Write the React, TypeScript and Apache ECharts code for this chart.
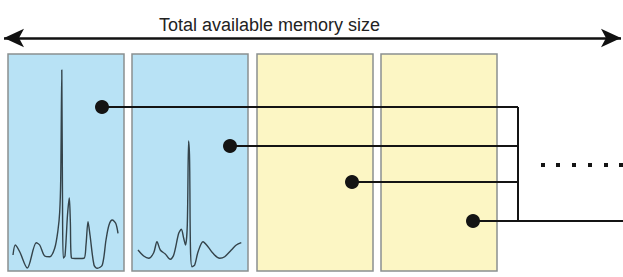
import React, { useEffect, useRef } from "react";
import * as echarts from "echarts";

// ---- data ----
const titleText = "Total available memory size";
const blockKinds = ["used", "used", "free", "free"];

// waveform samples stored in the two used blocks (time offset, amplitude)
const waveA: [number, number][] = [
  [5, 16], [7.3, 26], [11.7, 19.3], [19.3, 3], [28.3, 28.3], [31.7, 26], [36.7, 15],
  [41.7, 14.3], [46.7, 22.7], [50, 41], [51.7, 59], [52.7, 91], [53.8, 201], [54.5, 71],
  [55.3, 13], [57, 15], [59.5, 56], [61.3, 73], [62.3, 51], [63.5, 13], [70, 12.5],
  [76, 12.7], [78, 26], [80, 49.3], [82, 36], [86, 6], [89.3, 2.7], [94.3, 6], [98, 31],
  [101, 46], [104.3, 51], [107.7, 47.7], [110, 37.7],
];
const waveB: [number, number][] = [
  [6, 21], [11.7, 15], [16.7, 12.7], [21.7, 18.3], [25, 29.3], [28.3, 21], [33.3, 17],
  [38.3, 11.7], [41.7, 16], [46.7, 37.7], [49.3, 41.7], [51.7, 32.7], [53.5, 26],
  [55.3, 46], [56.6, 130], [57.6, 111], [58.5, 21], [60, 4.3], [62.7, 6], [66, 19],
  [71, 29.3], [76, 24.3], [81, 17.7], [87.7, 12.7], [92.7, 14.3], [99.3, 21], [104.3, 26],
  [109.3, 28.3],
];
const blockWaves = [waveA, waveB, null, null];

// pointer dots (one per block) and the bus they join, in overlay units
const pointerDots: [number, number][] = [[102, 107], [230, 146], [352, 182], [473, 221]];
const busX = 518;
const exitX = 623;
const ellipsisY = 165;
const ellipsisX = [543, 558, 574, 590, 606, 621];
const arrowY = 38;
const arrowEnds = [4, 621];

// ---- layout ----
const W = 623;
const H = 277;
const panelLefts = [8, 132, 257, 381];
const panelTop = 54;
const panelW = 116;
const panelH = 217;
const kindColor: Record<string, string> = { used: "#b8e2f5", free: "#fcf6c4" };
const ink = "#141414";

export default function App() {
  const ref = useRef<HTMLDivElement>(null);
  useEffect(() => {
    if (!ref.current) return;
    const chart = echarts.init(ref.current, null, { renderer: "svg" });
    const n = blockKinds.length;
    const grids: any[] = blockKinds.map((k, i) => ({
      left: panelLefts[i],
      top: panelTop,
      width: panelW,
      height: panelH,
      show: true,
      backgroundColor: kindColor[k],
      borderColor: "#8a9090",
      borderWidth: 1.5,
    }));
    grids.push({ left: 0, top: 0, width: W, height: H });
    const xAxes: any[] = blockKinds.map((_, i) => ({
      type: "value", gridIndex: i, min: 0, max: panelW, show: false,
    }));
    xAxes.push({ type: "value", gridIndex: n, min: 0, max: W, show: false });
    const yAxes: any[] = blockKinds.map((_, i) => ({
      type: "value", gridIndex: i, min: 0, max: panelH, show: false,
    }));
    yAxes.push({ type: "value", gridIndex: n, min: 0, max: H, inverse: true, show: false });

    const series: any[] = [];
    blockWaves.forEach((w, i) => {
      if (!w) return;
      series.push({
        type: "line", xAxisIndex: i, yAxisIndex: i, data: w, showSymbol: false,
        smooth: 0.3, lineStyle: { color: "#34434a", width: 1.4 }, z: 3,
      });
    });
    pointerDots.forEach((d) => {
      series.push({
        type: "line", xAxisIndex: n, yAxisIndex: n, data: [d, [busX, d[1]]],
        showSymbol: false, lineStyle: { color: ink, width: 2 }, z: 4,
      });
    });
    const ys = pointerDots.map((d) => d[1]);
    series.push({
      type: "line", xAxisIndex: n, yAxisIndex: n,
      data: [[busX, Math.min(...ys)], [busX, Math.max(...ys)]],
      showSymbol: false, lineStyle: { color: ink, width: 2 }, z: 4,
    });
    series.push({
      type: "line", xAxisIndex: n, yAxisIndex: n,
      data: [[busX, Math.max(...ys)], [exitX, Math.max(...ys)]],
      showSymbol: false, lineStyle: { color: ink, width: 2 }, z: 4,
      markLine: {
        silent: true,
        symbol: ["arrow", "arrow"],
        symbolSize: [14, 20],
        label: { show: false },
        lineStyle: { color: "#111", width: 2.5, type: "solid" },
        data: [[{ coord: [arrowEnds[0], arrowY] }, { coord: [arrowEnds[1], arrowY] }]],
      },
    });
    series.push({
      type: "scatter", xAxisIndex: n, yAxisIndex: n, data: pointerDots,
      symbolSize: 14, itemStyle: { color: ink, opacity: 1 }, z: 5,
    });
    series.push({
      type: "scatter", xAxisIndex: n, yAxisIndex: n,
      data: ellipsisX.map((x) => [x, ellipsisY]),
      symbol: "rect", symbolSize: 4, itemStyle: { color: ink, opacity: 1 }, z: 5,
    });

    chart.setOption({
      animation: false,
      backgroundColor: "#ffffff",
      title: {
        text: titleText,
        left: 154,
        top: 11,
        textStyle: {
          fontSize: 18, fontWeight: "normal", color: "#222",
          fontFamily: "'Liberation Sans', Arial, sans-serif",
        },
      },
      grid: grids,
      xAxis: xAxes,
      yAxis: yAxes,
      series,
    });
    return () => chart.dispose();
  }, []);
  return (
    <div
      ref={ref}
      style={{ position: "absolute", left: 0, top: 0, width: W, height: H }}
    />
  );
}
